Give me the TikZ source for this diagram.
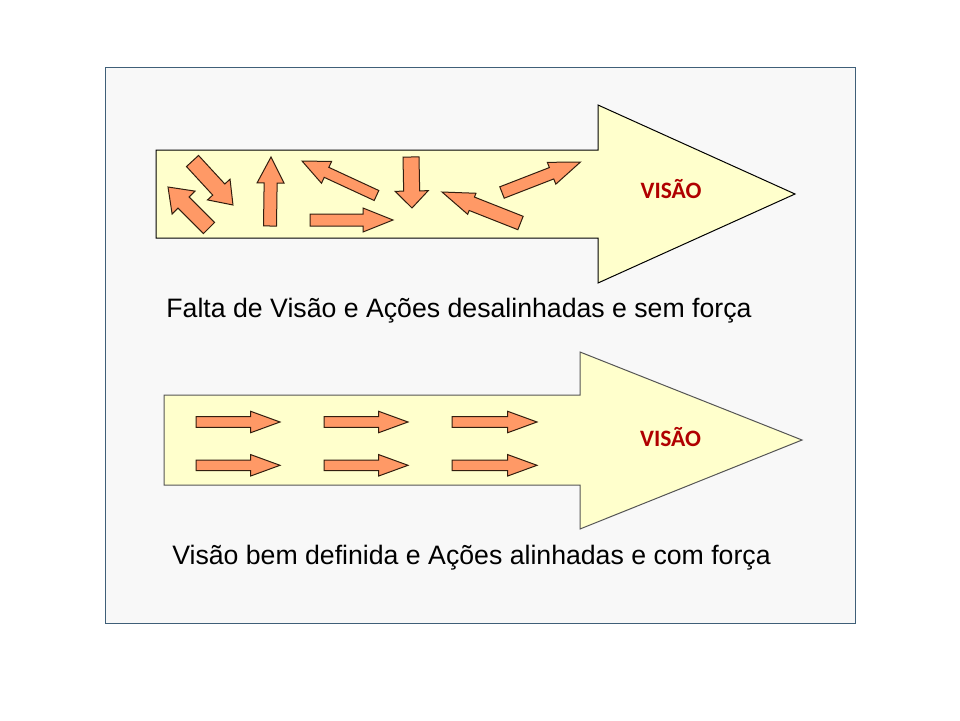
\documentclass[tikz,border=0pt]{standalone}
\usepackage{fontspec}
\setmainfont{Liberation Sans}
\newfontfamily\carlitofont{Carlito}
\definecolor{bgfill}{RGB}{248,248,248}
\definecolor{bgline}{RGB}{63,95,120}
\definecolor{bigfill}{RGB}{255,255,204}
\definecolor{smallfill}{RGB}{255,153,102}
\definecolor{smallline}{RGB}{50,30,15}
\definecolor{visred}{RGB}{176,0,0}
\tikzset{
  bgbox/.style={fill=bgfill,draw=bgline,line width=1pt},
  bigarrow/.style={fill=bigfill,draw=black,line width=1pt,line join=miter},
  bigarrowb/.style={fill=bigfill,draw={rgb,255:red,85;green,85;blue,85},line width=1pt,line join=miter},
  smallarrow/.style={fill=smallfill,draw=smallline,line width=1pt,line join=miter},
  caption/.style={anchor=base,font=\fontsize{26.67}{30}\selectfont,inner sep=0pt},
  vislabel/.style={anchor=base,font=\carlitofont\bfseries\fontsize{23.5}{27}\selectfont,text=visred,inner sep=0pt}
}
% tail x, tail y, tip x, tip y, shaft half width, head half width, head length (pixels, y down)
\newcommand{\saArrow}[7]{%
  \pgfmathsetmacro\saDx{#3-#1}%
  \pgfmathsetmacro\saDy{#2-#4}%
  \pgfmathsetmacro\saAng{atan2(\saDy,\saDx)}%
  \pgfmathsetmacro\saLen{veclen(\saDx,\saDy)}%
  \pgfmathsetmacro\saHb{\saLen-#7}%
  \begin{scope}[shift={(#1,#2)},rotate=\saAng]
    \draw[smallarrow] (0,-#5) -- (\saHb,-#5) -- (\saHb,-#6) -- (\saLen,0) -- (\saHb,#6) -- (\saHb,#5) -- (0,#5) -- cycle;
  \end{scope}}
\begin{document}
\begin{tikzpicture}[x=1pt,y=-1pt]
\useasboundingbox (0,0) rectangle (960,720);
\draw[bgbox] (105,67) rectangle (855,623);
% top big arrow
\draw[bigarrow] (156,150) -- (598,150) -- (598,105) -- (795,194) -- (598,283) -- (598,238) -- (156,238) -- cycle;
% bottom big arrow
\draw[bigarrowb] (164,395) -- (580,395) -- (580,352) -- (802,440) -- (580,529) -- (580,485) -- (164,485) -- cycle;
% misaligned arrows
\saArrow{209}{228}{168}{187}{7.9}{16.2}{22}
\saArrow{192.5}{161}{233}{205}{8.2}{15.3}{21}
\saArrow{270}{226}{271}{157}{6.5}{13.5}{26}
\saArrow{376.5}{195.5}{302}{161}{5.5}{12}{27}
\saArrow{310}{220}{393}{220}{6}{12}{30}
\saArrow{411}{157}{412}{208}{8}{16.5}{17}
\saArrow{520.5}{223}{442}{192}{7.2}{11.3}{32}
\saArrow{502}{192.5}{580.5}{162}{6.1}{11.7}{31}
% aligned arrows
\foreach \tx/\hx in {196/280,324/408,452/537}{
  \saArrow{\tx}{422}{\hx}{422}{5.3}{10.7}{29.3}
  \saArrow{\tx}{465.3}{\hx}{465.3}{5.3}{10.7}{29.3}
}
\node[vislabel] (vis1) at (671,198) {VISÃO};
\node[vislabel] (vis2) at (670.5,446) {VISÃO};
\node[caption] (cap1) at (459,317.5) {Falta de Visão e Ações desalinhadas e sem força};
\node[caption] (cap2) at (471.5,564.3) {Visão bem definida e Ações alinhadas e com força};
\end{tikzpicture}
\end{document}
